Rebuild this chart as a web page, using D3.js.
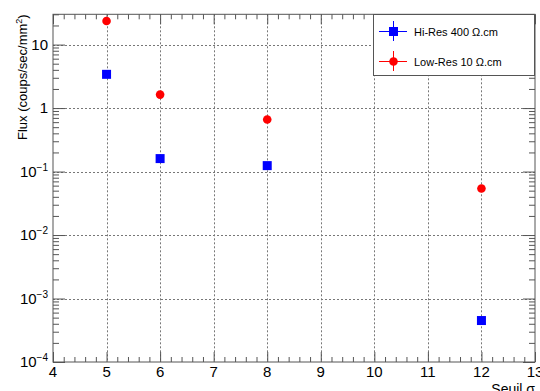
<!DOCTYPE html>
<html><head><meta charset="utf-8">
<script src="https://cdn.jsdelivr.net/npm/d3@7"></script>
<style>
html,body{margin:0;padding:0;background:#fff;}
svg{display:block;font-family:"Liberation Sans",Arial,Helvetica,sans-serif;}
</style></head>
<body>
<svg id="c" width="540" height="391"></svg>
<script>
// ---- data ----
const seuils = [5, 6, 8, 12];
const hiResFlux = [3.4, 0.16, 0.124, 0.00045];
const lowResFlux = [23.5, 1.63, 0.66, 0.054];
const seriesNames = ["Hi-Res 400 \u03A9.cm", "Low-Res 10 \u03A9.cm"];
const xTicks = [4, 5, 6, 7, 8, 9, 10, 11, 12, 13];
const yTickExps = [-4, -3, -2, -1, 0, 1];
const xTitle = "Seuil \u03C3";

const svg = d3.select("#c");
const L = 53, R = 535, T = 14.3, B = 362;
const x = d3.scaleLinear().domain([4, 13]).range([L, R]);
const y = d3.scaleLog().domain([1e-4, 30]).range([B, T]);
const axisCol = "#555";

// grid
const grid = svg.append("g").attr("stroke", "#777").attr("stroke-width", 1).attr("stroke-dasharray", "2,2");
xTicks.filter(v => v > 4 && v < 13).forEach(v => {
  grid.append("line").attr("x1", Math.round(x(v)) + 0.5).attr("x2", Math.round(x(v)) + 0.5).attr("y1", T).attr("y2", B);
});
yTickExps.forEach(e => {
  const yy = Math.round(y(Math.pow(10, e))) + 0.5;
  if (e > -4) grid.append("line").attr("x1", L).attr("x2", R).attr("y1", yy).attr("y2", yy);
});

// minor tick values
const xMinor = d3.range(4, 13.001, 0.2).map(v => +v.toFixed(1)).filter(v => Math.abs(v - Math.round(v)) > 1e-6);
const yMinor = [];
for (let e = -4; e <= 1; e++) for (let m = 2; m <= 9; m++) { const v = m * Math.pow(10, e); if (v <= 30) yMinor.push(v); }
const yMajor = yTickExps.map(e => Math.pow(10, e));

function styleAxis(g) {
  g.select(".domain").remove();
  g.selectAll("line").attr("stroke", axisCol);
}
// bottom
svg.append("g").attr("transform", `translate(0,${B})`).call(d3.axisBottom(x).tickValues(xTicks).tickSize(-10).tickFormat("")).call(styleAxis);
svg.append("g").attr("transform", `translate(0,${B})`).call(d3.axisBottom(x).tickValues(xMinor).tickSize(-5).tickFormat("")).call(styleAxis);
// top
svg.append("g").attr("transform", `translate(0,${T})`).call(d3.axisTop(x).tickValues(xTicks).tickSize(-10).tickFormat("")).call(styleAxis);
svg.append("g").attr("transform", `translate(0,${T})`).call(d3.axisTop(x).tickValues(xMinor).tickSize(-5).tickFormat("")).call(styleAxis);
// left
svg.append("g").attr("transform", `translate(${L},0)`).call(d3.axisLeft(y).tickValues(yMajor).tickSize(-12).tickFormat("")).call(styleAxis);
svg.append("g").attr("transform", `translate(${L},0)`).call(d3.axisLeft(y).tickValues(yMinor).tickSize(-6).tickFormat("")).call(styleAxis);
// right
svg.append("g").attr("transform", `translate(${R},0)`).call(d3.axisRight(y).tickValues(yMajor).tickSize(-12).tickFormat("")).call(styleAxis);
svg.append("g").attr("transform", `translate(${R},0)`).call(d3.axisRight(y).tickValues(yMinor).tickSize(-6).tickFormat("")).call(styleAxis);

// frame
svg.append("rect").attr("x", L).attr("y", T).attr("width", R - L).attr("height", B - T)
  .attr("fill", "none").attr("stroke", axisCol).attr("stroke-width", 1);

// x tick labels
svg.append("g").selectAll("text").data(xTicks).join("text")
  .attr("x", d => x(d)).attr("y", 377).attr("text-anchor", "middle")
  .attr("font-size", 15).attr("fill", "#000").text(d => d);

// y tick labels
const yl = svg.append("g");
yTickExps.forEach(e => {
  const t = yl.append("text").attr("x", 48).attr("y", y(Math.pow(10, e)) + 5)
    .attr("text-anchor", "end").attr("font-size", 15).attr("fill", "#000");
  if (e === 0) t.text("1");
  else if (e === 1) t.text("10");
  else {
    t.append("tspan").text("10");
    t.append("tspan").attr("font-size", 10).attr("dy", -6).text("\u2212" + (-e));
  }
});

// axis titles
const yt = svg.append("text").attr("transform", `translate(27,${T}) rotate(-90)`)
  .attr("text-anchor", "end").attr("font-size", 13).attr("fill", "#000");
yt.append("tspan").text("Flux (coups/sec/mm");
yt.append("tspan").attr("font-size", 9).attr("dy", -5).text("2");
yt.append("tspan").attr("dy", 5).text(")");
svg.append("text").attr("x", R).attr("y", 394).attr("text-anchor", "end")
  .attr("font-size", 14).attr("fill", "#000").text(xTitle);

// markers
const pts = svg.append("g");
pts.selectAll("rect.hi").data(seuils.map((s, i) => [s, hiResFlux[i]])).join("rect")
  .attr("class", "hi").attr("x", d => x(d[0]) - 4.5).attr("y", d => y(d[1]) - 4.5)
  .attr("width", 9).attr("height", 9).attr("fill", "#0000ff");
pts.selectAll("circle.lo").data(seuils.map((s, i) => [s, lowResFlux[i]])).join("circle")
  .attr("class", "lo").attr("cx", d => x(d[0])).attr("cy", d => y(d[1])).attr("r", 4.3).attr("fill", "#ff0000");

// legend
const lg = svg.append("g");
lg.append("rect").attr("x", 373.5).attr("y", 14.5).attr("width", 161).attr("height", 61)
  .attr("fill", "#fff").attr("stroke", axisCol).attr("stroke-width", 1);
const legCols = ["#0000ff", "#ff0000"];
const legY = [31, 61];
legY.forEach((ly, i) => {
  const g = lg.append("g").attr("stroke", legCols[i]).attr("stroke-width", 1);
  g.append("line").attr("x1", 379).attr("x2", 407).attr("y1", ly + 0.5).attr("y2", ly + 0.5);
  g.append("line").attr("x1", 393.5).attr("x2", 393.5).attr("y1", ly - 10).attr("y2", ly + 10);
  if (i === 0) lg.append("rect").attr("x", 389).attr("y", ly - 4).attr("width", 9).attr("height", 9).attr("fill", legCols[i]);
  else lg.append("circle").attr("cx", 393.5).attr("cy", ly + 0.5).attr("r", 4.3).attr("fill", legCols[i]);
  lg.append("text").attr("x", 414).attr("y", ly + 4.5).attr("font-size", 11).attr("fill", "#000").text(seriesNames[i]);
});
</script>
</body></html>
